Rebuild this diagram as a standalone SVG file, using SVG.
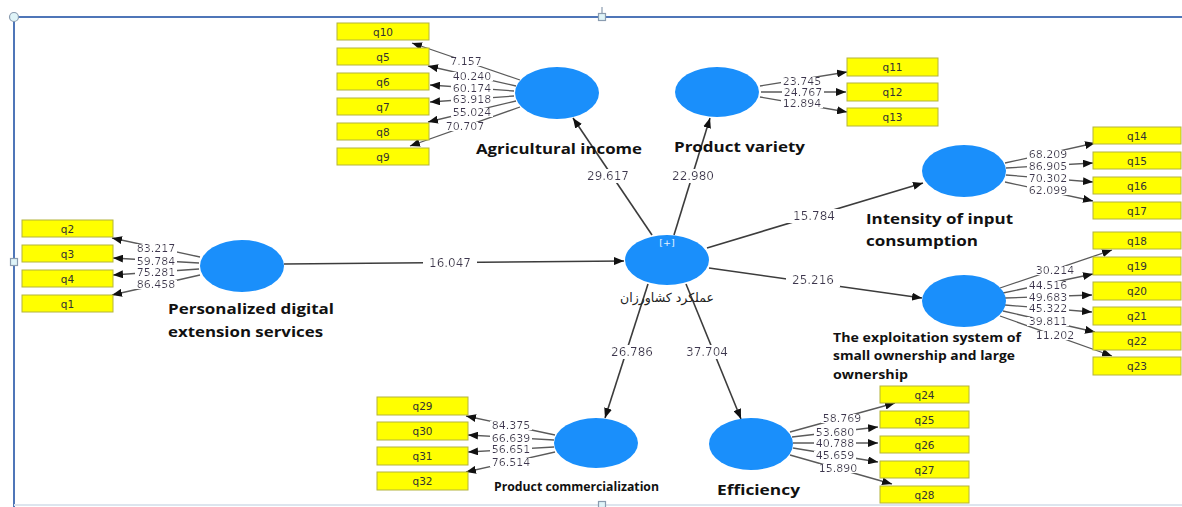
<svg xmlns="http://www.w3.org/2000/svg" width="1182" height="507" viewBox="0 0 1182 507">
  <defs>
    <marker id="arr" markerUnits="userSpaceOnUse" markerWidth="10" markerHeight="8" refX="10" refY="4" orient="auto">
      <path d="M0,0 L10,4 L0,8 Z" fill="#111"/>
    </marker>
    <!-- white plate behind coefficient text so connector lines break around it -->
    <filter id="plate" x="-0.04" y="0.16" width="1.08" height="0.66">
      <feFlood flood-color="#ffffff"/>
      <feComposite in="SourceGraphic"/>
    </filter>
    <filter id="plate2" x="-0.12" y="0.0" width="1.24" height="1.0">
      <feFlood flood-color="#ffffff"/>
      <feComposite in="SourceGraphic"/>
    </filter>
    <style>
      .frame { stroke: #4f76b8; stroke-width: 2; fill: none; }
      .handle { fill: #dff4f8; stroke: #8a9cb0; stroke-width: 1.2; }
      .lv { fill: #1a8ffb; }
      .ind rect { fill: #ffff00; stroke: #b4b43c; stroke-width: 1; }
      .ind text { font-family: "DejaVu Sans", sans-serif; font-size: 10.5px; fill: #333; text-anchor: middle; }
      .load { stroke: #5a5a5a; stroke-width: 1.3; fill: none; marker-end: url(#arr); }
      .path { stroke: #3c3c3c; stroke-width: 1.6; fill: none; marker-end: url(#arr); }
      .num { font-family: "DejaVu Sans", sans-serif; font-size: 11px; fill: #3d3550; text-anchor: middle; filter: url(#plate); }
      .pnum { font-size: 12px; filter: url(#plate2); }
      .name { font-family: "Open Sans", "Liberation Sans", sans-serif; font-weight: 700; fill: #111; }
    </style>
  </defs>

  <!-- selection frame -->
  <g id="frame">
    <line class="frame" x1="14" y1="17" x2="1182" y2="17"/>
    <line class="frame" x1="14" y1="17" x2="14" y2="507"/>
    <line x1="14" y1="505" x2="1182" y2="505" stroke="#dde5ee" stroke-width="2"/>
    <line x1="602" y1="7" x2="602" y2="14" stroke="#8a9cb0" stroke-width="1.2"/>
    <circle class="handle" cx="14" cy="17" r="4.5"/>
    <rect class="handle" x="598.5" y="13.5" width="7" height="7"/>
    <rect class="handle" x="10.5" y="258.5" width="7" height="7"/>
    <rect class="handle" x="598.5" y="501.5" width="7" height="7"/>
  </g>

  <!-- connectors -->
  <g id="connectors">
    <!-- structural paths -->
    <line class="path" x1="284" y1="264" x2="624" y2="261"/>
    <line class="path" x1="652" y1="235" x2="573" y2="118"/>
    <line class="path" x1="674" y1="235" x2="710" y2="118"/>
    <line class="path" x1="707" y1="248" x2="923" y2="183"/>
    <line class="path" x1="709" y1="268" x2="922" y2="298"/>
    <line class="path" x1="648" y1="284" x2="605" y2="418"/>
    <line class="path" x1="686" y1="284" x2="741" y2="419"/>

    <!-- Agricultural income loadings -->
    <line class="load" x1="520" y1="80" x2="412" y2="43"/>
    <line class="load" x1="516" y1="86" x2="428" y2="66"/>
    <line class="load" x1="514" y1="91" x2="430" y2="85"/>
    <line class="load" x1="514" y1="96" x2="430" y2="102"/>
    <line class="load" x1="516" y1="101" x2="428" y2="122"/>
    <line class="load" x1="520" y1="107" x2="410" y2="146"/>

    <!-- Product variety loadings -->
    <line class="load" x1="760" y1="86" x2="847" y2="72"/>
    <line class="load" x1="761" y1="92" x2="846" y2="92"/>
    <line class="load" x1="760" y1="97" x2="847" y2="112"/>

    <!-- Intensity of input consumption loadings -->
    <line class="load" x1="1005" y1="163" x2="1095" y2="143"/>
    <line class="load" x1="1006" y1="168" x2="1093" y2="163"/>
    <line class="load" x1="1006" y1="175" x2="1093" y2="182"/>
    <line class="load" x1="1005" y1="182" x2="1093" y2="201"/>

    <!-- exploitation system loadings -->
    <line class="load" x1="1000" y1="288" x2="1112" y2="250"/>
    <line class="load" x1="1003" y1="293" x2="1093" y2="274"/>
    <line class="load" x1="1005" y1="298" x2="1092" y2="295"/>
    <line class="load" x1="1005" y1="305" x2="1092" y2="312"/>
    <line class="load" x1="1003" y1="311" x2="1095" y2="332"/>
    <line class="load" x1="1000" y1="316" x2="1112" y2="356"/>

    <!-- Personalized digital extension services loadings -->
    <line class="load" x1="200" y1="257" x2="112" y2="238"/>
    <line class="load" x1="199" y1="263" x2="113" y2="258"/>
    <line class="load" x1="199" y1="269" x2="113" y2="275"/>
    <line class="load" x1="200" y1="275" x2="112" y2="295"/>

    <!-- Product commercialization loadings -->
    <line class="load" x1="555" y1="435" x2="466" y2="416"/>
    <line class="load" x1="554" y1="440" x2="468" y2="435"/>
    <line class="load" x1="554" y1="447" x2="468" y2="452"/>
    <line class="load" x1="555" y1="452" x2="466" y2="472"/>

    <!-- Efficiency loadings -->
    <line class="load" x1="790" y1="432" x2="895" y2="403"/>
    <line class="load" x1="792" y1="437" x2="878" y2="427"/>
    <line class="load" x1="793" y1="443" x2="878" y2="443"/>
    <line class="load" x1="793" y1="448" x2="878" y2="462"/>
    <line class="load" x1="790" y1="455" x2="892" y2="484"/>
  </g>

  <!-- coefficient labels -->
  <g id="connector-labels">
    <text class="num pnum" x="450" y="267">16.047</text>
    <text class="num pnum" x="608" y="180">29.617</text>
    <text class="num pnum" x="693" y="180">22.980</text>
    <text class="num pnum" x="814" y="220">15.784</text>
    <text class="num pnum" x="813" y="284">25.216</text>
    <text class="num pnum" x="632" y="356">26.786</text>
    <text class="num pnum" x="707" y="356">37.704</text>

    <text class="num" x="466" y="65">7.157</text>
    <text class="num" x="472" y="80">40.240</text>
    <text class="num" x="472" y="92">60.174</text>
    <text class="num" x="472" y="103">63.918</text>
    <text class="num" x="472" y="116">55.024</text>
    <text class="num" x="465" y="130">70.707</text>

    <text class="num" x="802" y="85">23.745</text>
    <text class="num" x="803" y="96">24.767</text>
    <text class="num" x="802" y="107">12.894</text>

    <text class="num" x="1048" y="158">68.209</text>
    <text class="num" x="1048" y="170">86.905</text>
    <text class="num" x="1048" y="182">70.302</text>
    <text class="num" x="1048" y="194">62.099</text>

    <text class="num" x="1055" y="274">30.214</text>
    <text class="num" x="1048" y="289">44.516</text>
    <text class="num" x="1048" y="301">49.683</text>
    <text class="num" x="1048" y="312">45.322</text>
    <text class="num" x="1048" y="325">39.811</text>
    <text class="num" x="1055" y="339">11.202</text>

    <text class="num" x="156" y="252">83.217</text>
    <text class="num" x="156" y="265">59.784</text>
    <text class="num" x="156" y="276">75.281</text>
    <text class="num" x="156" y="288">86.458</text>

    <text class="num" x="511" y="429">84.375</text>
    <text class="num" x="511" y="442">66.639</text>
    <text class="num" x="511" y="453">56.651</text>
    <text class="num" x="511" y="466">76.514</text>

    <text class="num" x="842" y="422">58.769</text>
    <text class="num" x="835" y="436">53.680</text>
    <text class="num" x="835" y="447">40.788</text>
    <text class="num" x="835" y="459">45.659</text>
    <text class="num" x="838" y="472">15.890</text>
  </g>

  <!-- latent variables -->
  <g id="farmer-performance">
    <ellipse class="lv" cx="667" cy="260" rx="42" ry="25"/>
    <text x="667" y="246" font-family="DejaVu Sans, sans-serif" font-size="9.5" fill="#e8f3ff" text-anchor="middle">[+]</text>
    <text x="667" y="302" font-family="DejaVu Sans, sans-serif" font-size="12.5" fill="#222" text-anchor="middle">عملکرد کشاورزان</text>
  </g>
  <g id="agricultural-income">
    <ellipse class="lv" cx="557" cy="93" rx="42" ry="26"/>
    <text class="name" x="476" y="154" font-size="14.5" textLength="166" lengthAdjust="spacingAndGlyphs">Agricultural income</text>
  </g>
  <g id="product-variety">
    <ellipse class="lv" cx="717" cy="92" rx="42" ry="25"/>
    <text class="name" x="674" y="152" font-size="14.5" textLength="131" lengthAdjust="spacingAndGlyphs">Product variety</text>
  </g>
  <g id="input-consumption">
    <ellipse class="lv" cx="964" cy="171" rx="42" ry="26"/>
    <text class="name" x="866" y="224" font-size="14.5" textLength="147" lengthAdjust="spacingAndGlyphs">Intensity of input</text>
    <text class="name" x="866" y="246" font-size="14.5" textLength="112" lengthAdjust="spacingAndGlyphs">consumption</text>
  </g>
  <g id="exploitation-system">
    <ellipse class="lv" cx="964" cy="301" rx="42" ry="26"/>
    <text class="name" x="833" y="342" font-size="12.5" textLength="188" lengthAdjust="spacingAndGlyphs">The exploitation system of</text>
    <text class="name" x="833" y="360" font-size="12.5" textLength="182" lengthAdjust="spacingAndGlyphs">small ownership and large</text>
    <text class="name" x="833" y="379" font-size="12.5" textLength="75" lengthAdjust="spacingAndGlyphs">ownership</text>
  </g>
  <g id="digital-extension">
    <ellipse class="lv" cx="242" cy="266" rx="42" ry="26"/>
    <text class="name" x="168" y="314" font-size="14.5" textLength="166" lengthAdjust="spacingAndGlyphs">Personalized digital</text>
    <text class="name" x="168" y="337" font-size="14.5" textLength="155" lengthAdjust="spacingAndGlyphs">extension services</text>
  </g>
  <g id="product-commercialization">
    <ellipse class="lv" cx="596" cy="443" rx="42" ry="25"/>
    <text class="name" x="494" y="491" font-size="11.5" textLength="165" lengthAdjust="spacingAndGlyphs">Product commercialization</text>
  </g>
  <g id="efficiency">
    <ellipse class="lv" cx="751" cy="444" rx="42" ry="26"/>
    <text class="name" x="717" y="495" font-size="14.5" textLength="83" lengthAdjust="spacingAndGlyphs">Efficiency</text>
  </g>

  <!-- indicators -->
  <g id="q10" class="ind"><rect x="337" y="23" width="92" height="17"/><text x="383" y="35.5">q10</text></g>
  <g id="q5" class="ind"><rect x="337" y="48" width="92" height="17"/><text x="383" y="60.5">q5</text></g>
  <g id="q6" class="ind"><rect x="337" y="73" width="92" height="17"/><text x="383" y="85.5">q6</text></g>
  <g id="q7" class="ind"><rect x="337" y="98" width="92" height="17"/><text x="383" y="110.5">q7</text></g>
  <g id="q8" class="ind"><rect x="337" y="123" width="92" height="17"/><text x="383" y="135.5">q8</text></g>
  <g id="q9" class="ind"><rect x="337" y="148" width="92" height="17"/><text x="383" y="160.5">q9</text></g>

  <g id="q11" class="ind"><rect x="847" y="58" width="91" height="18"/><text x="892.5" y="71">q11</text></g>
  <g id="q12" class="ind"><rect x="847" y="83" width="91" height="18"/><text x="892.5" y="96">q12</text></g>
  <g id="q13" class="ind"><rect x="847" y="108" width="91" height="18"/><text x="892.5" y="121">q13</text></g>

  <g id="q14" class="ind"><rect x="1093" y="127" width="88" height="17"/><text x="1137" y="139.5">q14</text></g>
  <g id="q15" class="ind"><rect x="1093" y="152" width="88" height="17"/><text x="1137" y="164.5">q15</text></g>
  <g id="q16" class="ind"><rect x="1093" y="177" width="88" height="17"/><text x="1137" y="189.5">q16</text></g>
  <g id="q17" class="ind"><rect x="1093" y="202" width="88" height="17"/><text x="1137" y="214.5">q17</text></g>

  <g id="q18" class="ind"><rect x="1093" y="232" width="88" height="17"/><text x="1137" y="244.5">q18</text></g>
  <g id="q19" class="ind"><rect x="1093" y="257" width="88" height="18"/><text x="1137" y="270">q19</text></g>
  <g id="q20" class="ind"><rect x="1093" y="282" width="88" height="18"/><text x="1137" y="295">q20</text></g>
  <g id="q21" class="ind"><rect x="1093" y="307" width="88" height="18"/><text x="1137" y="320">q21</text></g>
  <g id="q22" class="ind"><rect x="1093" y="332" width="88" height="18"/><text x="1137" y="345">q22</text></g>
  <g id="q23" class="ind"><rect x="1093" y="357" width="88" height="18"/><text x="1137" y="370">q23</text></g>

  <g id="q2" class="ind"><rect x="22" y="220" width="91" height="17"/><text x="67.5" y="232.5">q2</text></g>
  <g id="q3" class="ind"><rect x="22" y="245" width="91" height="17"/><text x="67.5" y="257.5">q3</text></g>
  <g id="q4" class="ind"><rect x="22" y="270" width="91" height="17"/><text x="67.5" y="282.5">q4</text></g>
  <g id="q1" class="ind"><rect x="22" y="295" width="91" height="17"/><text x="67.5" y="307.5">q1</text></g>

  <g id="q29" class="ind"><rect x="377" y="397" width="91" height="18"/><text x="422.5" y="410">q29</text></g>
  <g id="q30" class="ind"><rect x="377" y="422" width="91" height="18"/><text x="422.5" y="435">q30</text></g>
  <g id="q31" class="ind"><rect x="377" y="447" width="91" height="18"/><text x="422.5" y="460">q31</text></g>
  <g id="q32" class="ind"><rect x="377" y="472" width="91" height="18"/><text x="422.5" y="485">q32</text></g>

  <g id="q24" class="ind"><rect x="880" y="386" width="89" height="17"/><text x="924.5" y="398.5">q24</text></g>
  <g id="q25" class="ind"><rect x="880" y="411" width="89" height="17"/><text x="924.5" y="423.5">q25</text></g>
  <g id="q26" class="ind"><rect x="880" y="436" width="89" height="17"/><text x="924.5" y="448.5">q26</text></g>
  <g id="q27" class="ind"><rect x="880" y="461" width="89" height="17"/><text x="924.5" y="473.5">q27</text></g>
  <g id="q28" class="ind"><rect x="880" y="486" width="89" height="17"/><text x="924.5" y="498.5">q28</text></g>
</svg>
